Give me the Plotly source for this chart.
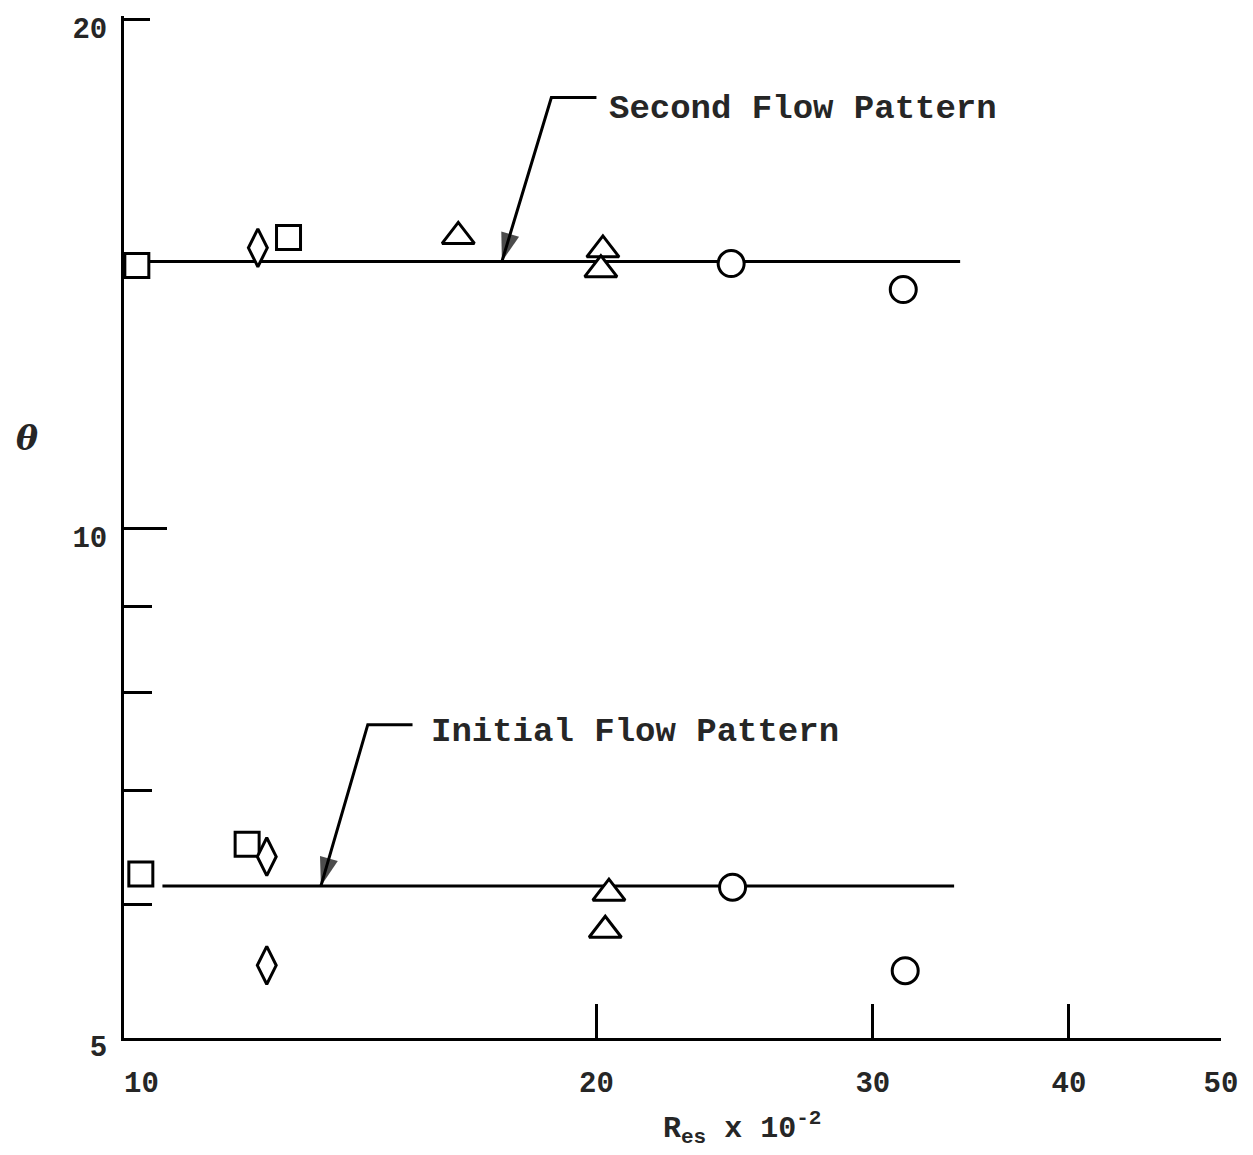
import math
import plotly.graph_objects as go

# ---------------- data ----------------
# Second flow pattern
sq2_x = [10.19, 12.73]
sq2_y = [14.31, 14.87]
di2_x = [12.17]
di2_y = [14.66]
tr2_x = [16.33, 20.19, 20.13]
tr2_y = [14.89, 14.62, 14.23]
ci2_x = [24.37, 31.37]
ci2_y = [14.35, 13.85]
line2_x = [10.0, 34.1]
line2_y = [14.39, 14.39]

# Initial flow pattern
sq1_x = [10.25, 11.98]
sq1_y = [6.25, 6.51]
di1_x = [12.33, 12.33]
di1_y = [6.40, 5.52]
tr1_x = [20.37, 20.26]
tr1_y = [6.09, 5.79]
ci1_x = [24.42, 31.46]
ci1_y = [6.14, 5.48]
line1_x = [10.58, 33.8]
line1_y = [6.15, 6.15]

# leader lines: [horizontal end, bend, arrow tip]
lead2_x = [20.0, 18.72, 17.41]
lead2_y = [17.99, 17.99, 14.39]
lead1_x = [15.27, 14.30, 13.35]
lead1_y = [7.66, 7.66, 6.15]
label2 = "Second Flow Pattern"
label2_pos = (20.3, 17.7)
label1 = "Initial Flow Pattern"
label1_pos = (15.64, 7.58)

x_ticks = [10, 20, 30, 40, 50]
x_ticktext = ["\u00a0\u00a010", "20", "30", "40", "50"]
y_major = [5, 10, 20]
y_major_text = ["5", "10", "20"]
y_minor = [6, 7, 8, 9]
y_range = [math.log10(5), math.log10(20.1)]

MONO = "Liberation Mono"
INK = "#262626"

fig = go.Figure()

def line_trace(xs, ys):
    fig.add_trace(go.Scatter(x=xs, y=ys, mode="lines",
                             line=dict(color="black", width=3),
                             hoverinfo="skip", showlegend=False))

def leader_trace(xs, ys):
    n = len(xs)
    fig.add_trace(go.Scatter(x=xs, y=ys, mode="lines+markers",
                             line=dict(color="black", width=3),
                             marker=dict(symbol="arrow", angleref="previous",
                                         size=[0] * (n - 1) + [30], color="black",
                                         line=dict(width=0)),
                             hoverinfo="skip", showlegend=False))

def marker_trace(xs, ys, symbol, size):
    fig.add_trace(go.Scatter(x=xs, y=ys, mode="markers",
                             marker=dict(symbol=symbol, size=size, color="white",
                                         line=dict(color="black", width=3)),
                             hoverinfo="skip", showlegend=False))

line_trace(line2_x, line2_y)
line_trace(line1_x, line1_y)
leader_trace(lead2_x, lead2_y)
leader_trace(lead1_x, lead1_y)

for xs, ys in [(sq2_x, sq2_y), (sq1_x, sq1_y)]:
    marker_trace(xs, ys, "square", 24)
for xs, ys in [(di2_x, di2_y), (di1_x, di1_y)]:
    marker_trace(xs, ys, "diamond-tall", 27)
for xs, ys in [(tr2_x, tr2_y), (tr1_x, tr1_y)]:
    marker_trace(xs, ys, "triangle-up", 28)
for xs, ys in [(ci2_x, ci2_y), (ci1_x, ci1_y)]:
    marker_trace(xs, ys, "circle", 26)

# dummy trace so the overlay axis (long tick at 10) is drawn
fig.add_trace(go.Scatter(x=[10], y=[10], yaxis="y2", mode="markers",
                         marker=dict(opacity=0), hoverinfo="skip", showlegend=False))

annotations = []
for txt, (px, py) in [(label2, label2_pos), (label1, label1_pos)]:
    annotations.append(dict(
        x=math.log10(px), y=math.log10(py), xref="x", yref="y",
        text=txt, showarrow=False, xanchor="left", yanchor="middle",
        font=dict(family=MONO, size=34, color=INK, weight="bold")))

annotations.append(dict(
    x=0.563, y=-0.088, xref="paper", yref="paper",
    text="R<sub>es</sub> x 10<sup>-2</sup>", showarrow=False,
    xanchor="center", yanchor="middle",
    font=dict(family=MONO, size=30, color=INK, weight="bold")))

annotations.append(dict(
    x=-0.088, y=0.587, xref="paper", yref="paper",
    text="<b><i>\u03b8</i></b>", showarrow=False,
    xanchor="center", yanchor="middle",
    font=dict(family="DejaVu Serif", size=33, color=INK)))

fig.update_layout(
    width=1245, height=1147,
    margin=dict(l=116, r=32, t=8, b=117, autoexpand=False),
    paper_bgcolor="white", plot_bgcolor="white",
    showlegend=False,
    annotations=annotations,
    xaxis=dict(
        type="log", range=[1, math.log10(50)], automargin=False,
        showgrid=False, zeroline=False,
        showline=True, linecolor="black", linewidth=3,
        ticks="inside", ticklen=34, tickwidth=3, tickcolor="black",
        tickmode="array", tickvals=x_ticks, ticktext=x_ticktext,
        ticklabelstandoff=16, ticklabeloverflow="allow",
        tickfont=dict(family=MONO, size=29, color=INK, weight="bold"),
    ),
    yaxis=dict(
        type="log", range=y_range, automargin=False,
        showgrid=False, zeroline=False,
        showline=True, linecolor="black", linewidth=3,
        ticks="inside", ticklen=26, tickwidth=3, tickcolor="black",
        tickmode="array", tickvals=y_major, ticktext=y_major_text,
        ticklabelstandoff=8, ticklabelshift=8, ticklabeloverflow="allow",
        tickfont=dict(family=MONO, size=29, color=INK, weight="bold"),
        minor=dict(tickmode="array", tickvals=y_minor, ticks="inside",
                   ticklen=28, tickwidth=3, tickcolor="black", showgrid=False),
    ),
    yaxis2=dict(
        type="log", range=y_range, automargin=False,
        overlaying="y", side="left", anchor="x",
        showgrid=False, zeroline=False, showline=False,
        ticks="inside", ticklen=43, tickwidth=3, tickcolor="black",
        tickmode="array", tickvals=[10], showticklabels=False,
    ),
)

fig.write_html("out.html")
